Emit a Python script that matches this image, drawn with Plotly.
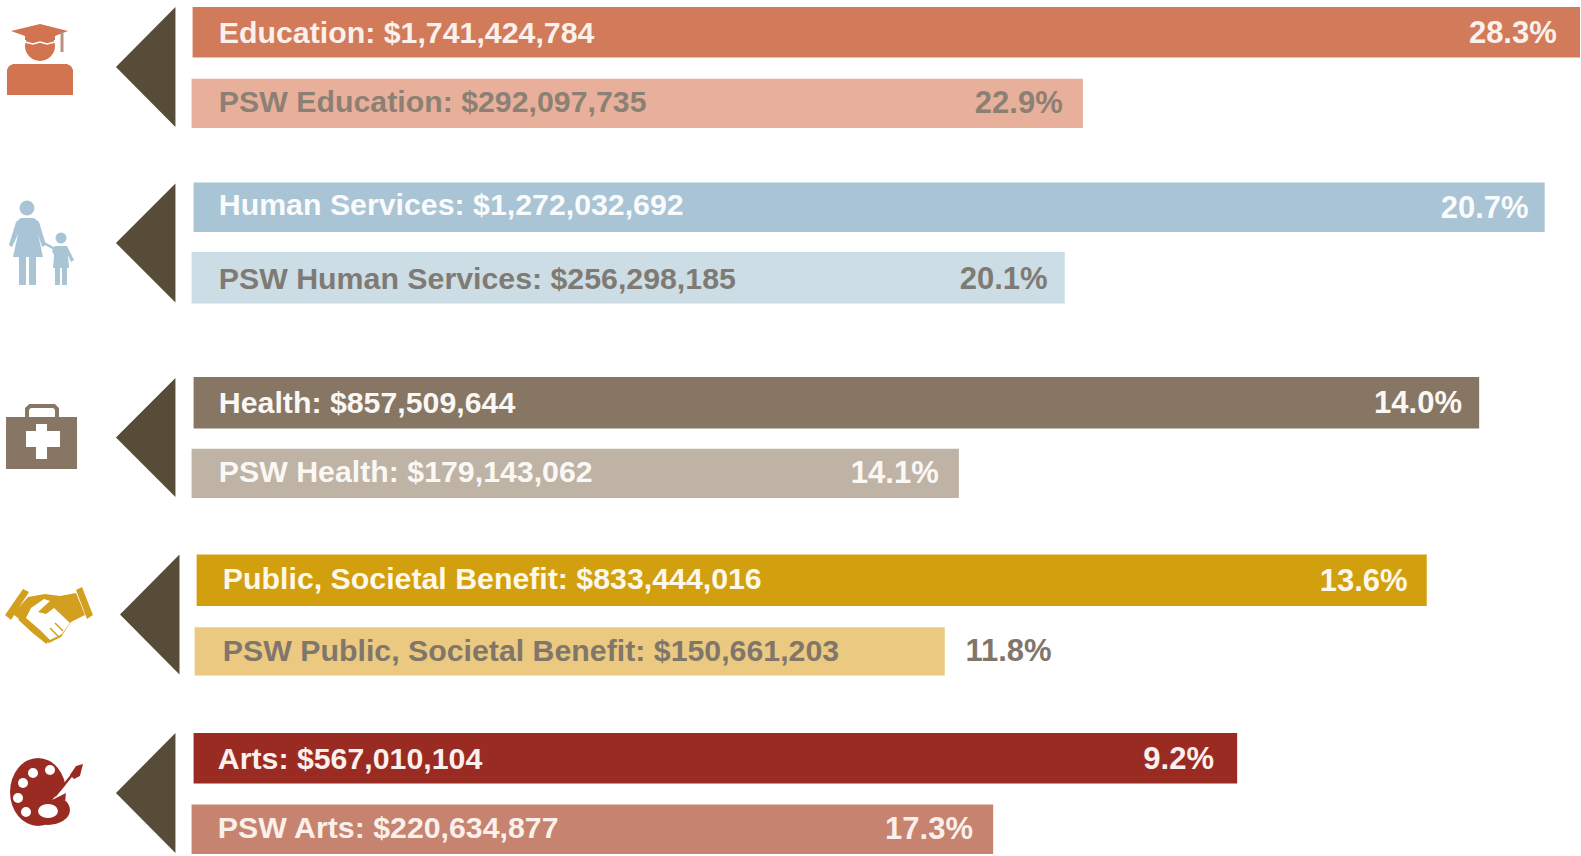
import plotly.graph_objects as go

categories = ["Education", "PSW Education", "Human Services", "PSW Human Services", "Health", "PSW Health",
              "Public, Societal Benefit", "PSW Public, Societal Benefit", "Arts", "PSW Arts"]
dollars = ["$1,741,424,784", "$292,097,735", "$1,272,032,692", "$256,298,185", "$857,509,644",
           "$179,143,062", "$833,444,016", "$150,661,203", "$567,010,104", "$220,634,877"]
percents = ["28.3%", "22.9%", "20.7%", "20.1%", "14.0%", "14.1%", "13.6%", "11.8%", "9.2%", "17.3%"]
# bar extents, on a 0-1568 by 0-849 reading grid
bar_start = [191, 190, 192, 190, 192, 190, 195, 193, 192, 190]
bar_end = [1567, 1074, 1532, 1056, 1467, 951, 1415, 937, 1227, 985]
bar_top = [7, 78, 181, 250, 374, 445, 550, 622, 727, 798]
bar_bottom = [57, 127, 230, 301, 425, 494, 601, 670, 777, 847]
colors = ["#D27B5A", "#E8B09A", "#A9C4D4", "#CCDDE5", "#877663", "#BFB3A5", "#D29F0E", "#EBC981", "#9A2B22", "#C58370"]
label_colors = ["#FBF1EC", "#8C8075", "#FAFBFC", "#7F7B74", "#FAF8F5", "#FAF8F5", "#FDF8EA", "#80766A", "#FBF0EE", "#FBF0EA"]
label_x = [217, 217, 217, 217, 217, 217, 221, 221, 216, 216]
label_y = [35, 104, 206, 279, 402, 471, 577, 648, 755, 824]
pct_right = [1544, 1054, 1516, 1039, 1450, 931, 1396, 1043, 1204, 965]
pct_y = [35, 104, 209, 279, 402, 471, 578, 648, 755, 824]
pct_colors = ["#FBF1EC", "#8C8075", "#FAFBFC", "#7F7B74", "#FAF8F5", "#FAF8F5", "#FDF8EA", "#80766A", "#FBF0EE", "#FBF0EA"]
arrow_left = [115, 115, 115, 119, 115]
arrow_right = [174, 174, 174, 178, 174]
arrow_top = [7, 182, 375, 550, 727]
arrow_bottom = [126, 300, 493, 669, 846]
ARROW = "#574C38"
S = 1568 / 1581  # icon paths were measured in screen pixels

FONT = "Liberation Sans"
fig = go.Figure()
fig.add_trace(go.Bar(
    orientation="h",
    base=bar_start,
    x=[e - s for s, e in zip(bar_start, bar_end)],
    y=[(t + b) / 2 for t, b in zip(bar_top, bar_bottom)],
    width=[b - t for t, b in zip(bar_top, bar_bottom)],
    marker=dict(color=colors, line=dict(width=0)),
    hoverinfo="skip",
))
fig.add_trace(go.Scatter(
    x=label_x, y=label_y, mode="text",
    text=[f"{c}: {d}" for c, d in zip(categories, dollars)],
    textposition="middle right",
    textfont=dict(family=FONT, size=30.3, color=label_colors, weight="bold"),
    hoverinfo="skip",
))
fig.add_trace(go.Scatter(
    x=pct_right, y=pct_y, mode="text", text=percents,
    textposition="middle left",
    textfont=dict(family=FONT, size=31, color=pct_colors, weight="bold"),
    hoverinfo="skip",
))

shapes = []


def poly(points, color, close=True):
    d = "M" + " L".join(f"{x * S:.1f},{y * S:.1f}" for x, y in points) + (" Z" if close else "")
    shapes.append(dict(type="path", path=d, fillcolor=color, line=dict(width=0), layer="above"))


def stroke(points, color, width):
    d = "M" + " L".join(f"{x * S:.1f},{y * S:.1f}" for x, y in points)
    shapes.append(dict(type="path", path=d, line=dict(color=color, width=width), layer="above"))


def circle(cx, cy, rx, color, ry=None):
    ry = rx if ry is None else ry
    shapes.append(dict(type="circle", x0=(cx - rx) * S, x1=(cx + rx) * S, y0=(cy - ry) * S, y1=(cy + ry) * S,
                       fillcolor=color, line=dict(width=0), layer="above"))


# arrows
for l, r, t, b in zip(arrow_left, arrow_right, arrow_top, arrow_bottom):
    shapes.append(dict(type="path", path=f"M{l},{(t + b) / 2} L{r},{t} L{r},{b} Z",
                       fillcolor=ARROW, line=dict(width=0), layer="above"))

# graduate
c = "#D2744F"
circle(40, 46, 15, c)
poly([(7, 70), (9, 66), (13, 64), (67, 64), (71, 66), (73, 70), (73, 95), (7, 95)], c)
poly([(11, 31), (40, 24), (68, 31), (55, 36), (55, 40), (25, 40), (25, 36)], c)
stroke([(25, 42), (33, 44), (40, 42), (47, 44), (55, 42)], "#FFFFFF", 1.5)
stroke([(62, 32), (62, 52)], "#B8927F", 3)

# mother and child
c = "#A9C4D4"
circle(27, 208, 7.5, c)
poly([(21, 218), (34, 218), (39, 222), (46, 245), (42, 247), (38, 234), (43, 257), (13, 257), (18, 234), (12, 247),
      (9, 245), (16, 222)], c)
poly([(19, 257), (26, 257), (26, 285), (19, 285)], c)
poly([(29, 257), (36, 257), (36, 285), (29, 285)], c)
stroke([(44, 243), (55, 249)], c, 2.5)
circle(61, 238, 5.5, c)
poly([(55, 246), (67, 246), (74, 260), (71, 262), (68, 255), (69, 268), (53, 268), (54, 255), (52, 251)], c)
poly([(55, 268), (60, 268), (60, 285), (55, 285)], c)
poly([(62, 268), (67, 268), (67, 285), (62, 285)], c)

# medical case
c = "#877663"
stroke([(27, 417), (27, 409), (30, 406), (54, 406), (57, 409), (57, 417)], c, 4)
poly([(6, 417), (77, 417), (77, 469), (6, 469)], c)
poly([(36, 424), (47, 424), (47, 431), (60, 431), (60, 447), (47, 447), (47, 459), (36, 459), (36, 447), (26, 447),
      (26, 431), (36, 431)], "#FFFFFF")

# handshake
c = "#D29F1E"
poly([(5, 615), (23, 589), (29, 592), (11, 620)], c)
poly([(76, 590), (82, 587), (93, 615), (87, 619)], c)
poly([(28, 597), (45, 594), (60, 596), (76, 593), (85, 615), (71, 622), (61, 637), (49, 643), (33, 630), (13, 614)], c)
poly([(31, 608), (44, 599), (50, 601), (38, 612), (46, 614), (54, 608), (70, 623), (62, 634), (50, 640), (40, 630), (26, 618)], "#FFFFFF")
stroke([(20, 618), (34, 631), (48, 642)], c, 5)
stroke([(50, 628), (58, 636)], c, 1.5)
stroke([(55, 623), (63, 631)], c, 1.5)

# palette
c = "#9A2B22"
circle(38, 792, 28, c, 34)
circle(48, 810, 22, c, 15)
poly([(70, 780), (72, 790), (52, 800)], "#FFFFFF")
for cx, cy, r in [(33, 773, 5), (50, 770, 5), (23, 783, 5), (18, 798, 5), (26, 812, 5)]:
    circle(cx, cy, r, "#FFFFFF")
circle(48, 811, 10, "#FFFFFF", 7)
stroke([(55, 796), (72, 775)], c, 2.5)
poly([(70, 775), (76, 766), (83, 764), (80, 776), (74, 779)], c)

fig.update_layout(
    width=1581, height=856, margin=dict(l=0, r=0, t=0, b=0),
    paper_bgcolor="#FFFFFF", plot_bgcolor="#FFFFFF", showlegend=False, shapes=shapes,
    xaxis=dict(range=[0, 1568], visible=False, fixedrange=True),
    yaxis=dict(range=[849, 0], visible=False, fixedrange=True),
)
fig.write_html("out.html", config=dict(displayModeBar=False),
               post_script="document.body.style.margin='0';")
